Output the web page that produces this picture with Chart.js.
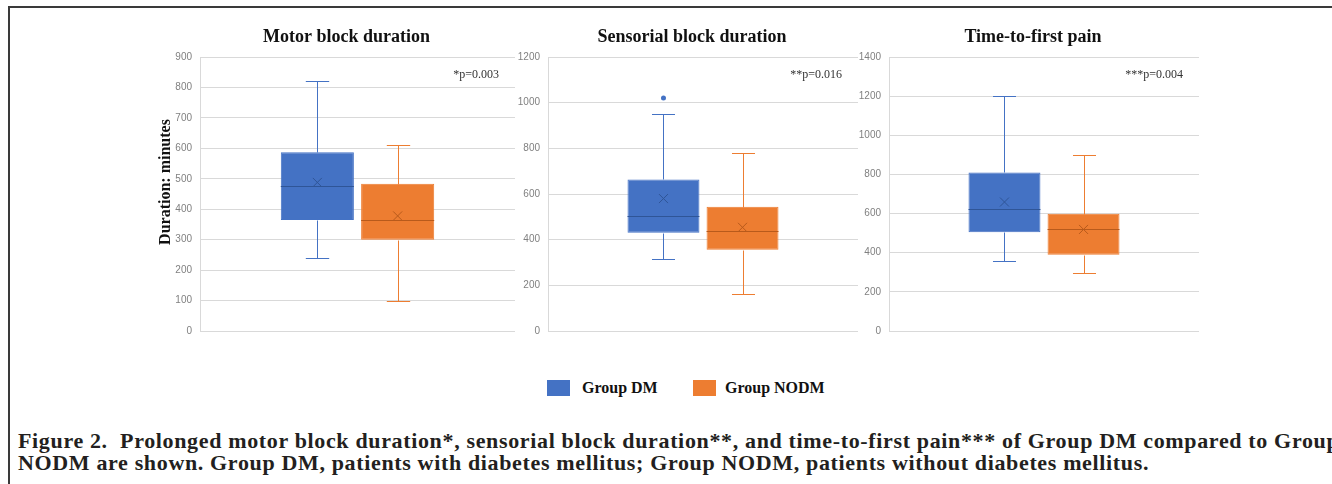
<!DOCTYPE html>
<html>
<head>
<meta charset="utf-8">
<script src="https://cdn.jsdelivr.net/npm/chart.js@4.4.1/dist/chart.umd.min.js"></script>
<style>
	body { margin: 0; width: 1332px; height: 484px; overflow: hidden; background: #fff; position: relative; }
	.frame { position: absolute; left: 8px; top: 6px; width: 1340px; height: 500px; border-left: 2px solid #3a3a3a; border-top: 2px solid #3a3a3a; }
	canvas { position: absolute; top: 0; }
	#c1 { left: 140px; }
	#c2 { left: 508px; }
	#c3 { left: 853px; }
	.sw { position: absolute; width: 23px; height: 16px; top: 380px; }
	.lg { position: absolute; top: 378px; font: bold 16px "Liberation Serif", serif; color: #111; line-height: 19px; }
	.caption { position: absolute; left: 18px; top: 430px; font: bold 22px "Liberation Serif", serif; letter-spacing: 0.65px; line-height: 22px; color: #231f20; white-space: nowrap; }
</style>
</head>
<body>
<div class="frame"></div>
<canvas id="c1" width="380" height="345"></canvas>
<canvas id="c2" width="357" height="345"></canvas>
<canvas id="c3" width="357" height="345"></canvas>

<div class="sw" style="left:547px;background:#4472C4"></div>
<div class="lg" style="left:582px">Group DM</div>
<div class="sw" style="left:693px;background:#ED7D31"></div>
<div class="lg" style="left:725px">Group NODM</div>

<div class="caption">Figure 2.&nbsp; Prolonged motor block duration*, sensorial block duration**, and time-to-first pain*** of Group DM compared to Group<br>NODM are shown. Group DM, patients with diabetes mellitus; Group NODM, patients without diabetes mellitus.</div>

<script>
// ===== Data =====
const groups = ["Group DM", "Group NODM"];
const groupColors = ["#4472C4", "#ED7D31"];
const innerColors = ["#2F5597", "#B85A1B"]; // median + mean marker

// box stats: [min, q1, median, q3, max]
const motorDM = [240, 365, 475, 587, 820];
const motorNODM = [100, 300, 365, 484, 610];
const motorMean = [488, 378];
const motorOutliers = [[], []];

const sensDM = [316, 430, 504, 664, 950];
const sensNODM = [160, 356, 439, 544, 778];
const sensMean = [580, 454];
const sensOutliers = [[1020], []];

const painDM = [360, 504, 622, 810, 1200];
const painNODM = [298, 389, 519, 599, 898];
const painMean = [659, 519];
const painOutliers = [[], []];

const axisMax = [900, 1200, 1400];
const axisStep = [100, 200, 200];
const panelTitles = ["Motor block duration", "Sensorial block duration", "Time-to-first pain"];
const pLabels = ["*p=0.003", "**p=0.016", "***p=0.004"];
const yAxisTitle = "Duration: minutes";

// ===== Plugin: whiskers, median, mean, outliers + panel texts =====
const boxPlugin = {
	id: "boxWhisker",
	afterDatasetsDraw(chart) {
		const ctx = chart.ctx;
		const y = chart.scales.y;
		chart.data.datasets.forEach((ds, i) => {
			const bar = chart.getDatasetMeta(i).data[0];
			const s = ds.stats;
			const x = bar.x;
			const half = bar.width / 2;
			const cap = bar.width * 0.16;
			const py = (v) => Math.round(y.getPixelForValue(v)) + 0.5;
			const px = Math.round(x) + 0.5;
			ctx.save();
			ctx.lineWidth = 1;
			// whiskers
			ctx.strokeStyle = ds.backgroundColor;
			ctx.beginPath();
			ctx.moveTo(px, py(s[3])); ctx.lineTo(px, py(s[4]));
			ctx.moveTo(px - cap, py(s[4])); ctx.lineTo(px + cap, py(s[4]));
			ctx.moveTo(px, py(s[1])); ctx.lineTo(px, py(s[0]));
			ctx.moveTo(px - cap, py(s[0])); ctx.lineTo(px + cap, py(s[0]));
			ctx.stroke();
			// median
			ctx.strokeStyle = ds.innerColor;
			ctx.beginPath();
			ctx.moveTo(x - half, py(s[2])); ctx.lineTo(x + half, py(s[2]));
			ctx.stroke();
			// mean marker
			const my = y.getPixelForValue(ds.mean);
			ctx.beginPath();
			ctx.moveTo(x - 4.5, my - 4.5); ctx.lineTo(x + 4.5, my + 4.5);
			ctx.moveTo(x + 4.5, my - 4.5); ctx.lineTo(x - 4.5, my + 4.5);
			ctx.stroke();
			// outliers
			ctx.fillStyle = ds.backgroundColor;
			ds.outliers.forEach((v) => {
				ctx.beginPath();
				ctx.arc(x, y.getPixelForValue(v), 2.5, 0, Math.PI * 2);
				ctx.fill();
			});
			ctx.restore();
		});
	},
	afterDraw(chart) {
		const o = chart.options.plugins.panelText;
		const a = chart.chartArea;
		const ctx = chart.ctx;
		ctx.save();
		ctx.textBaseline = "middle";
		ctx.fillStyle = "#111";
		ctx.font = "bold 18px 'Liberation Serif'";
		ctx.textAlign = "center";
		ctx.fillText(o.title, (a.left + a.right) / 2 - 11, 37);
		ctx.fillStyle = "#333";
		ctx.font = "12px 'Liberation Serif'";
		ctx.textAlign = "right";
		ctx.fillText(o.p, a.right - 16, 75);
		// y axis title, placed a bit above the middle like the original
		if (o.yTitle) {
			ctx.translate(a.left - 34, 182);
			ctx.rotate(-Math.PI / 2);
			ctx.textAlign = "center";
			ctx.fillStyle = "#111";
			ctx.font = "bold 16px 'Liberation Serif'";
			ctx.fillText(o.yTitle, 0, 0);
		}
		ctx.restore();
	},
};

function buatPanel(canvasId, idx, statsDM, statsNODM, means, outliers, yWidth, padRight, showTitle) {
	const ctx = document.getElementById(canvasId);
	const allStats = [statsDM, statsNODM];
	new Chart(ctx, {
		type: "bar",
		data: {
			labels: [""],
			datasets: groups.map((g, i) => ({
				label: g,
				data: [[allStats[i][1], allStats[i][3]]],
				backgroundColor: groupColors[i],
				borderColor: groupColors[i],
				borderWidth: 1,
				borderSkipped: false,
				stats: allStats[i],
				mean: means[i],
				outliers: outliers[i],
				innerColor: innerColors[i],
				categoryPercentage: 0.51,
				barPercentage: 0.91,
			})),
		},
		options: {
			responsive: false,
			animation: false,
			layout: { padding: { top: 57, bottom: 12, left: 0, right: padRight } },
			plugins: {
				legend: { display: false },
				tooltip: { enabled: false },
				panelText: { title: panelTitles[idx], p: pLabels[idx], yTitle: showTitle ? yAxisTitle : "" },
			},
			scales: {
				x: { display: false },
				y: {
					min: 0,
					max: axisMax[idx],
					ticks: {
						stepSize: axisStep[idx],
						color: "#808080",
						font: { family: "Liberation Sans", size: 10 },
						padding: 8,
						callback: (v) => String(v),
					},
					grid: { color: "#d9d9d9", drawTicks: false },
					border: { color: "#d9d9d9" },
					afterFit: (scale) => {
						scale.width = yWidth;
					},
				},
			},
		},
		plugins: [boxPlugin],
	});
}

buatPanel("c1", 0, motorDM, motorNODM, motorMean, motorOutliers, 60, 5, true);
buatPanel("c2", 1, sensDM, sensNODM, sensMean, sensOutliers, 40, 7, false);
buatPanel("c3", 2, painDM, painNODM, painMean, painOutliers, 36, 11, false);
</script>
</body>
</html>
